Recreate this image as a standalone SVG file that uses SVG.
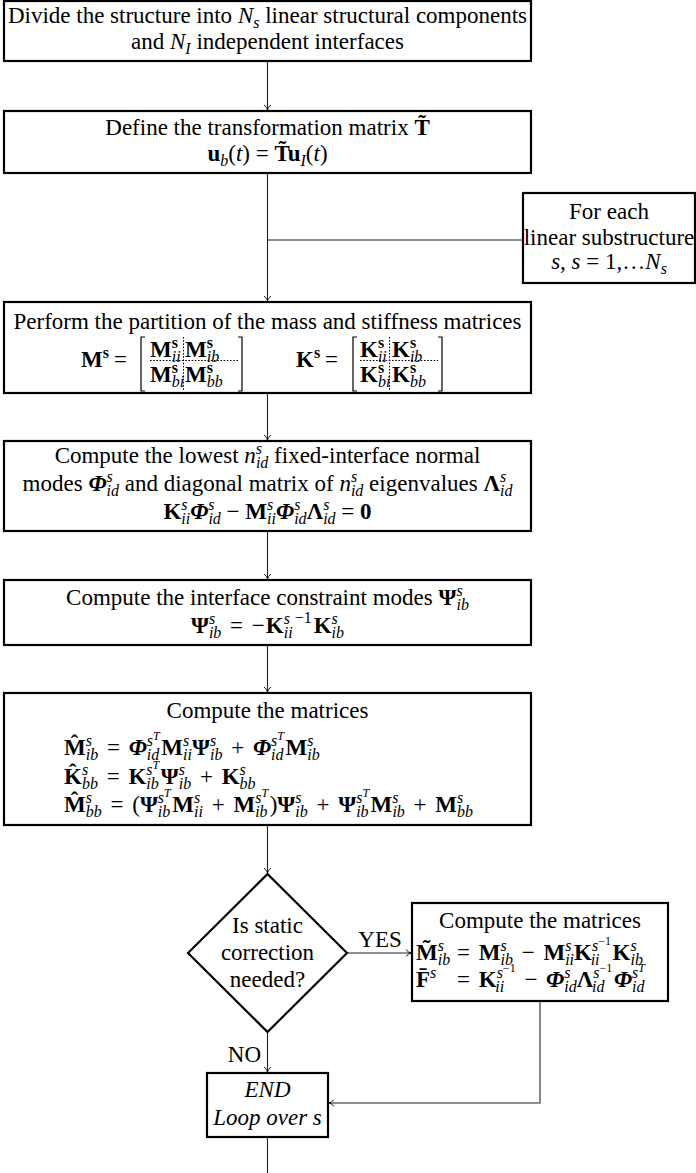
<svg xmlns="http://www.w3.org/2000/svg" width="696" height="1173" viewBox="0 0 696 1173">
  <style>
    .box { fill: #fff; stroke: #000; stroke-width: 2.2; }
    .con { fill: none; stroke: #222; stroke-width: 1.1; }
    .dot { fill: none; stroke: #000; stroke-width: 1; stroke-dasharray: 1.6 1.6; }
    .brk { fill: none; stroke: #000; stroke-width: 1.2; }
    .tx { font-family: "Liberation Serif", "Times New Roman", serif; font-size: 23px; fill: #000; }
    .m { word-spacing: 3px; }
    .c { text-anchor: middle; }
    .i { font-style: italic; }
    .b { font-weight: bold; }
    .bi { font-weight: bold; font-style: italic; }
    .s { font-size: 16px; }
    .ss { font-size: 12px; }
  </style>
  <defs>
    <marker id="tip" markerUnits="userSpaceOnUse" viewBox="-6 -4.5 7 9" refX="0" refY="0" markerWidth="7" markerHeight="9" orient="auto" overflow="visible">
      <path d="M-4.8,-3.4 C-3.6,-1.6 -1.6,-0.4 0,0 C-1.6,0.4 -3.6,1.6 -4.8,3.4" fill="none" stroke="#000" stroke-width="1"/>
    </marker>
  </defs>

  <!-- connectors -->
  <g id="connectors">
    <path class="con" d="M267.5,61 V110" marker-end="url(#tip)"/>
    <path class="con" d="M267.5,173 V301" marker-end="url(#tip)"/>
    <path class="con" d="M267.5,240 H523"/>
    <path class="con" d="M267.5,393 V440" marker-end="url(#tip)"/>
    <path class="con" d="M267.5,531 V579" marker-end="url(#tip)"/>
    <path class="con" d="M267.5,645 V692" marker-end="url(#tip)"/>
    <path class="con" d="M267.5,825 V873" marker-end="url(#tip)"/>
    <path class="con" d="M347,953 H411" marker-end="url(#tip)"/>
    <path class="con" d="M267.5,1032 V1072" marker-end="url(#tip)"/>
    <path class="con" d="M540,1001 V1103 H329" marker-end="url(#tip)"/>
    <path class="con" d="M267.5,1137 V1173"/>
    <text class="tx c" x="380" y="947">YES</text>
    <text class="tx" x="261" y="1062" text-anchor="end">NO</text>
  </g>

  <!-- step 1: split into substructures -->
  <g id="divide">
    <rect class="box" x="4" y="1" width="527" height="60"/>
    <text class="tx c" x="267.5" y="23">Divide the structure into <tspan class="i">N</tspan><tspan class="s i" dy="5">s</tspan><tspan dy="-5"> linear structural components</tspan></text>
    <text class="tx c" x="267.5" y="49">and <tspan class="i">N</tspan><tspan class="s i" dy="5">I</tspan><tspan dy="-5"> independent interfaces</tspan></text>
  </g>

  <!-- step 2: transformation matrix -->
  <g id="transform">
    <rect class="box" x="4" y="111" width="527" height="62"/>
    <text class="tx c" x="267.5" y="135">Define the transformation matrix <tspan class="b">T&#x303;</tspan></text>
    <text class="tx c" x="267.5" y="161"><tspan class="b">u</tspan><tspan class="s i" dy="5">b</tspan><tspan dy="-5">(</tspan><tspan class="i">t</tspan>) = <tspan class="b">T&#x303;u</tspan><tspan class="s i" dy="5">I</tspan><tspan dy="-5">(</tspan><tspan class="i">t</tspan>)</text>
  </g>

  <!-- loop header -->
  <g id="loop">
    <rect class="box" x="523" y="193" width="172" height="90"/>
    <text class="tx c" x="609" y="219">For each</text>
    <text class="tx c" x="609" y="245">linear substructure</text>
    <text class="tx c" x="609" y="269"><tspan class="i">s</tspan>, <tspan class="i">s</tspan> = 1,…<tspan class="i">N</tspan><tspan class="s i" dy="5">s</tspan></text>
  </g>

  <!-- step 3: partition of mass and stiffness -->
  <g id="partition">
    <rect class="box" x="4" y="302" width="527" height="91"/>
    <text class="tx c" x="267.5" y="329">Perform the partition of the mass and stiffness matrices</text>
    <!-- M^s block matrix -->
    <text class="tx" x="81" y="367"><tspan class="b">M</tspan><tspan class="s b" dy="-9">s</tspan></text>
    <text class="tx" x="114" y="367">=</text>
    <path class="brk" d="M145,337 H141 V391 H145"/>
    <text class="tx" x="150" y="357"><tspan class="b">M</tspan><tspan class="s b" dy="-9">s</tspan><tspan class="s i" dx="-6.2" dy="14">ii</tspan></text>
    <text class="tx" x="185" y="357"><tspan class="b">M</tspan><tspan class="s b" dy="-9">s</tspan><tspan class="s i" dx="-6.2" dy="14">ib</tspan></text>
    <text class="tx" x="150" y="382"><tspan class="b">M</tspan><tspan class="s b" dy="-9">s</tspan><tspan class="s i" dx="-6.2" dy="14">bi</tspan></text>
    <text class="tx" x="185" y="382"><tspan class="b">M</tspan><tspan class="s b" dy="-9">s</tspan><tspan class="s i" dx="-6.2" dy="14">bb</tspan></text>
    <path class="dot" d="M150,360.5 H238 M183.5,337 V391"/>
    <path class="brk" d="M238,337 H242 V391 H238"/>
    <!-- K^s block matrix -->
    <text class="tx" x="296" y="367"><tspan class="b">K</tspan><tspan class="s b" dy="-9">s</tspan></text>
    <text class="tx" x="325" y="367">=</text>
    <path class="brk" d="M357,337 H353 V391 H357"/>
    <text class="tx" x="360" y="357"><tspan class="b">K</tspan><tspan class="s b" dy="-9">s</tspan><tspan class="s i" dx="-6.2" dy="14">ii</tspan></text>
    <text class="tx" x="392" y="357"><tspan class="b">K</tspan><tspan class="s b" dy="-9">s</tspan><tspan class="s i" dx="-6.2" dy="14">ib</tspan></text>
    <text class="tx" x="360" y="382"><tspan class="b">K</tspan><tspan class="s b" dy="-9">s</tspan><tspan class="s i" dx="-6.2" dy="14">bi</tspan></text>
    <text class="tx" x="392" y="382"><tspan class="b">K</tspan><tspan class="s b" dy="-9">s</tspan><tspan class="s i" dx="-6.2" dy="14">bb</tspan></text>
    <path class="dot" d="M360,360.5 H438 M389.5,337 V391"/>
    <path class="brk" d="M438,337 H442 V391 H438"/>
  </g>

  <!-- step 4: fixed-interface normal modes -->
  <g id="normal-modes">
    <rect class="box" x="4" y="441" width="527" height="90"/>
    <text class="tx c" x="267.5" y="463">Compute the lowest <tspan class="i">n</tspan><tspan class="s i" dy="-9">s</tspan><tspan class="s i" dx="-6.2" dy="14">id</tspan><tspan dy="-5"> fixed-interface normal</tspan></text>
    <text class="tx c" x="267.5" y="491">modes <tspan class="bi">Φ</tspan><tspan class="s i" dy="-9">s</tspan><tspan class="s i" dx="-6.2" dy="14">id</tspan><tspan dy="-5"> and diagonal matrix of </tspan><tspan class="i">n</tspan><tspan class="s i" dy="-9">s</tspan><tspan class="s i" dx="-6.2" dy="14">id</tspan><tspan dy="-5"> eigenvalues </tspan><tspan class="b">Λ</tspan><tspan class="s i" dy="-9">s</tspan><tspan class="s i" dx="-6.2" dy="14">id</tspan></text>
    <text class="tx c" x="267.5" y="519"><tspan class="b">K</tspan><tspan class="s i" dy="-9">s</tspan><tspan class="s i" dx="-6.2" dy="14">ii</tspan><tspan class="bi" dy="-5">Φ</tspan><tspan class="s i" dy="-9">s</tspan><tspan class="s i" dx="-6.2" dy="14">id</tspan><tspan dy="-5"> − </tspan><tspan class="b">M</tspan><tspan class="s i" dy="-9">s</tspan><tspan class="s i" dx="-6.2" dy="14">ii</tspan><tspan class="bi" dy="-5">Φ</tspan><tspan class="s i" dy="-9">s</tspan><tspan class="s i" dx="-6.2" dy="14">id</tspan><tspan class="b" dy="-5">Λ</tspan><tspan class="s i" dy="-9">s</tspan><tspan class="s i" dx="-6.2" dy="14">id</tspan><tspan dy="-5"> = </tspan><tspan class="b">0</tspan></text>
  </g>

  <!-- step 5: constraint modes -->
  <g id="constraint-modes">
    <rect class="box" x="4" y="580" width="527" height="65"/>
    <text class="tx c" x="267.5" y="605">Compute the interface constraint modes <tspan class="b">Ψ</tspan><tspan class="s i" dy="-9">s</tspan><tspan class="s i" dx="-6.2" dy="14">ib</tspan></text>
    <text class="tx c m" x="267.5" y="633"><tspan class="b">Ψ</tspan><tspan class="s i" dy="-9">s</tspan><tspan class="s i" dx="-6.2" dy="14">ib</tspan><tspan dy="-5"> = −</tspan><tspan class="b" dx="1">K</tspan><tspan class="s i" dy="-9">s</tspan><tspan class="s i" dx="-6.2" dy="14">ii</tspan><tspan class="s" dx="2" dy="-15">−1</tspan><tspan class="b" dx="2" dy="10">K</tspan><tspan class="s i" dy="-9">s</tspan><tspan class="s i" dx="-6.2" dy="14">ib</tspan></text>
  </g>

  <!-- step 6: reduced matrices -->
  <g id="reduced">
    <rect class="box" x="4" y="693" width="527" height="132"/>
    <text class="tx c" x="267.5" y="718">Compute the matrices</text>
    <text class="tx m" x="64" y="755"><tspan class="b">M&#x302;</tspan><tspan class="s i" dy="-9">s</tspan><tspan class="s i" dx="-6.2" dy="14">ib</tspan><tspan dy="-5"> = </tspan><tspan class="bi">Φ</tspan><tspan class="s i" dy="-9">s</tspan><tspan class="ss i" dy="-6">T</tspan><tspan class="s i" dx="-12.9" dy="20">id</tspan><tspan class="b" dx="2" dy="-5">M</tspan><tspan class="s i" dy="-9">s</tspan><tspan class="s i" dx="-6.2" dy="14">ii</tspan><tspan class="b" dy="-5">Ψ</tspan><tspan class="s i" dy="-9">s</tspan><tspan class="s i" dx="-6.2" dy="14">ib</tspan><tspan dy="-5"> + </tspan><tspan class="bi">Φ</tspan><tspan class="s i" dy="-9">s</tspan><tspan class="ss i" dy="-6">T</tspan><tspan class="s i" dx="-12.9" dy="20">id</tspan><tspan class="b" dx="2" dy="-5">M</tspan><tspan class="s i" dy="-9">s</tspan><tspan class="s i" dx="-6.2" dy="14">ib</tspan></text>
    <text class="tx m" x="64" y="784"><tspan class="b">K&#x302;</tspan><tspan class="s i" dy="-9">s</tspan><tspan class="s i" dx="-6.2" dy="14">bb</tspan><tspan dy="-5"> = </tspan><tspan class="b">K</tspan><tspan class="s i" dy="-9">s</tspan><tspan class="ss i" dy="-6">T</tspan><tspan class="s i" dx="-12.9" dy="20">ib</tspan><tspan class="b" dx="2" dy="-5">Ψ</tspan><tspan class="s i" dy="-9">s</tspan><tspan class="s i" dx="-6.2" dy="14">ib</tspan><tspan dy="-5"> + </tspan><tspan class="b">K</tspan><tspan class="s i" dy="-9">s</tspan><tspan class="s i" dx="-6.2" dy="14">bb</tspan></text>
    <text class="tx m" x="64" y="812"><tspan class="b">M&#x302;</tspan><tspan class="s i" dy="-9">s</tspan><tspan class="s i" dx="-6.2" dy="14">bb</tspan><tspan dy="-5"> = (</tspan><tspan class="b">Ψ</tspan><tspan class="s i" dy="-9">s</tspan><tspan class="ss i" dy="-6">T</tspan><tspan class="s i" dx="-12.9" dy="20">ib</tspan><tspan class="b" dx="2" dy="-5">M</tspan><tspan class="s i" dy="-9">s</tspan><tspan class="s i" dx="-6.2" dy="14">ii</tspan><tspan dy="-5"> + </tspan><tspan class="b">M</tspan><tspan class="s i" dy="-9">s</tspan><tspan class="ss i" dy="-6">T</tspan><tspan class="s i" dx="-12.9" dy="20">ib</tspan><tspan dx="2" dy="-5">)</tspan><tspan class="b">Ψ</tspan><tspan class="s i" dy="-9">s</tspan><tspan class="s i" dx="-6.2" dy="14">ib</tspan><tspan dy="-5"> + </tspan><tspan class="b">Ψ</tspan><tspan class="s i" dy="-9">s</tspan><tspan class="ss i" dy="-6">T</tspan><tspan class="s i" dx="-12.9" dy="20">ib</tspan><tspan class="b" dx="2" dy="-5">M</tspan><tspan class="s i" dy="-9">s</tspan><tspan class="s i" dx="-6.2" dy="14">ib</tspan><tspan dy="-5"> + </tspan><tspan class="b">M</tspan><tspan class="s i" dy="-9">s</tspan><tspan class="s i" dx="-6.2" dy="14">bb</tspan></text>
  </g>

  <!-- decision -->
  <g id="decision">
    <polygon class="box" points="267.5,874 347,953 267.5,1032 188,953"/>
    <text class="tx c" x="267.5" y="933">Is static</text>
    <text class="tx c" x="267.5" y="960">correction</text>
    <text class="tx c" x="267.5" y="987">needed?</text>
  </g>

  <!-- static correction -->
  <g id="static-correction">
    <rect class="box" x="412" y="903" width="256" height="98"/>
    <text class="tx c" x="540" y="928">Compute the matrices</text>
    <text class="tx m" x="416" y="960"><tspan class="b">M&#x303;</tspan><tspan class="s i" dy="-9">s</tspan><tspan class="s i" dx="-6.2" dy="14">ib</tspan><tspan x="457" dy="-5">= </tspan><tspan class="b">M</tspan><tspan class="s i" dy="-9">s</tspan><tspan class="s i" dx="-6.2" dy="14">ib</tspan><tspan dy="-5"> − </tspan><tspan class="b">M</tspan><tspan class="s i" dy="-9">s</tspan><tspan class="s i" dx="-6.2" dy="14">ii</tspan><tspan class="b" dy="-5">K</tspan><tspan class="s i" dy="-9">s</tspan><tspan class="ss" dy="-6">−1</tspan><tspan class="s i" dx="-20.3" dy="20">ii</tspan><tspan class="b" dx="13" dy="-5">K</tspan><tspan class="s i" dy="-9">s</tspan><tspan class="s i" dx="-6.2" dy="14">ib</tspan></text>
    <text class="tx m" x="416" y="987"><tspan class="b">F&#x304;</tspan><tspan class="s i" dy="-9">s</tspan><tspan x="457" dy="9">= </tspan><tspan class="b">K</tspan><tspan class="s i" dy="-9">s</tspan><tspan class="ss" dy="-6">−1</tspan><tspan class="s i" dx="-20.3" dy="20">ii</tspan><tspan dx="11.4" dy="-5"> − </tspan><tspan class="bi">Φ</tspan><tspan class="s i" dy="-9">s</tspan><tspan class="s i" dx="-6.2" dy="14">id</tspan><tspan class="b" dy="-5">Λ</tspan><tspan class="s i" dy="-9">s</tspan><tspan class="ss" dy="-6">−1</tspan><tspan class="s i" dx="-20.3" dy="20">id</tspan><tspan class="bi" dx="9.5" dy="-5">Φ</tspan><tspan class="s i" dy="-9">s</tspan><tspan class="ss i" dy="-6">T</tspan><tspan class="s i" dx="-12.9" dy="20">id</tspan></text>
  </g>

  <!-- end of loop -->
  <g id="end">
    <rect class="box" x="207" y="1073" width="121" height="64"/>
    <text class="tx c i" x="267.5" y="1097">END</text>
    <text class="tx c i" x="267.5" y="1125">Loop over s</text>
  </g>
</svg>
